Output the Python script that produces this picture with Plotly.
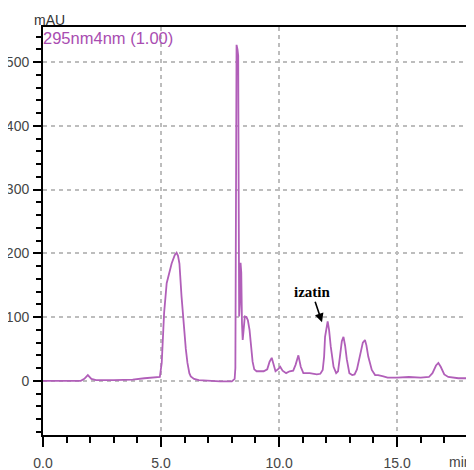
import plotly.graph_objects as go

# Retention time (min) and absorbance (mAU)
time_min = [0.0, 1.6, 1.75, 1.9, 2.05, 2.25, 3.0, 3.8, 4.3, 4.6, 4.9,
            4.95, 5.03, 5.13, 5.24, 5.35, 5.45, 5.58, 5.66, 5.72, 5.78, 5.87, 5.97, 6.05,
            6.12, 6.2, 6.26, 6.4, 6.6, 7.0, 7.5, 8.0, 8.08,
            8.12, 8.15, 8.16, 8.18, 8.2, 8.24, 8.27, 8.29, 8.31, 8.34, 8.37, 8.4, 8.43,
            8.46, 8.5, 8.55, 8.62, 8.68, 8.75, 8.82, 8.88, 8.95, 9.05, 9.2, 9.35, 9.5,
            9.6, 9.69, 9.78, 9.85, 9.95, 10.05, 10.15, 10.3, 10.45, 10.6, 10.7, 10.82,
            10.92, 11.03, 11.3, 11.6, 11.75, 11.85, 11.91, 11.95, 12.06, 12.12, 12.19,
            12.31, 12.42, 12.5, 12.58, 12.66, 12.73, 12.8, 12.87, 12.98, 13.1, 13.2,
            13.3, 13.43, 13.55, 13.64, 13.7, 13.78, 13.93, 14.07, 14.2, 14.42, 14.6,
            15.0, 15.5, 16.0, 16.35, 16.5, 16.65, 16.75, 16.85, 17.0, 17.17, 17.6, 18.3]
absorbance = [0, 0, 3, 9, 3, 1, 1, 2, 4, 5, 5,
              6, 28, 106, 153, 172, 184, 197, 201, 196, 184, 132, 80, 50,
              28, 12, 7, 3, 1, 0, -1, -1, 2,
              3, 20, 224, 230, 527, 520, 510, 300, 101, 120, 185, 170, 90,
              64, 80, 101, 100, 95, 80, 55, 30, 18, 15, 15, 15, 18,
              30, 36, 22, 15, 18, 22, 16, 12, 15, 16, 25, 40,
              22, 12, 12, 10, 11, 17, 38, 69, 93, 80, 54,
              22, 12, 15, 38, 62, 69, 55, 34, 12, 9, 10,
              18, 38, 60, 64, 56, 38, 17, 9, 9, 7, 5,
              5, 6, 5, 6, 12, 24, 28, 22, 10, 6, 4, 4]

x_tick_vals = [0, 5, 10, 15]
x_tick_text = ["0.0", "5.0", "10.0", "15.0"]
y_tick_vals = [0, 100, 200, 300, 400, 500]
y_tick_text = ["0", "100", "200", "300", "400", "500"]

peak_label = "izatin"
peak_time = 11.82
peak_abs = 92

line_color = "#B15FB9"
tick_color = "#454545"
grid_color = "#BDBDBD"

fig = go.Figure()
fig.add_trace(go.Scatter(x=time_min, y=absorbance, mode="lines",
                         line=dict(color=line_color, width=1.8),
                         showlegend=False, hoverinfo="skip"))

# page body has an 8px default margin, so the figure is sized to fill the rest
fig.update_layout(
    width=466, height=462,
    margin=dict(l=35, r=0, t=19, b=35, autoexpand=False),
    paper_bgcolor="white", plot_bgcolor="white",
    font=dict(family="Liberation Sans, Arial, sans-serif", size=14, color=tick_color),
    xaxis=dict(range=[0, 18.26], tickvals=x_tick_vals, ticktext=x_tick_text,
               ticks="outside", ticklen=10, tickwidth=1.5, tickcolor="black",
               ticklabelstandoff=4, automargin=False,
               showline=True, linecolor="black", linewidth=2, mirror=True,
               showgrid=True, gridcolor=grid_color, griddash="4px,4px", gridwidth=1.5,
               zeroline=False,
               minor=dict(dtick=1, tick0=0, ticks="outside", ticklen=6,
                          tickcolor="black", tickwidth=1.5, showgrid=False),
               tickfont=dict(size=14, color=tick_color)),
    yaxis=dict(range=[-85, 555], tickvals=y_tick_vals, ticktext=y_tick_text,
               ticks="outside", ticklen=8, tickwidth=1.5, tickcolor="black",
               ticklabelstandoff=1, automargin=False,
               showline=True, linecolor="black", linewidth=2, mirror=False,
               showgrid=True, gridcolor=grid_color, griddash="4px,4px", gridwidth=1.5,
               zeroline=False,
               minor=dict(dtick=20, tick0=0, ticks="outside", ticklen=5,
                          tickcolor="black", tickwidth=1.5, showgrid=False),
               tickfont=dict(size=14, color=tick_color)),
)

fig.add_annotation(x=peak_time, y=peak_abs, xref="x", yref="y",
                   text="<b>" + peak_label + "</b>", showarrow=True,
                   ax=-10, ay=-30, arrowhead=2, arrowsize=1.1, arrowwidth=1.6,
                   arrowcolor="black", standoff=0,
                   font=dict(family="Liberation Serif, Times New Roman, serif",
                             size=15, color="black"))

fig.add_annotation(x=-0.005, y=0.973, xref="paper", yref="paper",
                   text="295nm4nm (1.00)", showarrow=False,
                   xanchor="left", yanchor="middle",
                   font=dict(size=16.5, color="#A94DB1"))

fig.add_annotation(x=0.014, y=1.017, xref="paper", yref="paper",
                   text="mAU", showarrow=False, xanchor="center", yanchor="middle",
                   font=dict(size=14, color="#333333"))

fig.add_annotation(x=1.0, y=-0.066, xref="paper", yref="paper",
                   text="min", showarrow=False, xanchor="right", yanchor="middle",
                   font=dict(size=14, color=tick_color))

fig.write_html("out.html")
